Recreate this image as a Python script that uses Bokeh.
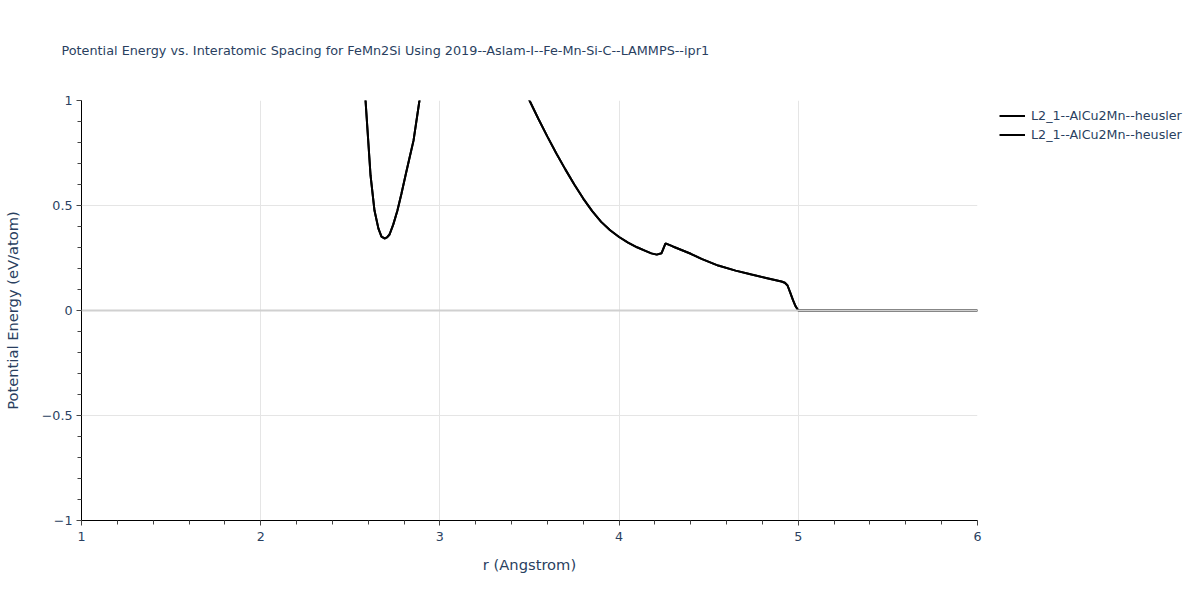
from bokeh.plotting import figure
from bokeh.models import (ColumnDataSource, SingleIntervalTicker, Range1d, Span,
                          Legend, LegendItem)
from bokeh.embed import file_html
from bokeh.resources import INLINE

# ---- data ----
r_vals = [2.55, 2.585, 2.613, 2.635, 2.657, 2.674, 2.691, 2.705, 2.719, 2.74, 2.763,
          2.785, 2.808, 2.83, 2.853, 2.886, 2.95, 3.05, 3.2, 3.35, 3.5, 3.55,
          3.6, 3.65, 3.7, 3.75, 3.8, 3.85, 3.9, 3.95, 4.0, 4.05, 4.1, 4.15,
          4.18, 4.21, 4.237, 4.259, 4.3, 4.4, 4.46, 4.553, 4.65, 4.739, 4.82,
          4.906, 4.925, 4.94, 4.955, 4.971, 4.985, 5.0, 5.5, 6.0]
e_vals = [1.6, 1.0, 0.643, 0.476, 0.39, 0.352, 0.343, 0.348, 0.362, 0.41, 0.476,
          0.555, 0.643, 0.725, 0.81, 1.0, 1.4, 1.9, 1.7, 1.3, 1.0, 0.912,
          0.828, 0.748, 0.672, 0.6, 0.533, 0.473, 0.422, 0.382, 0.35, 0.323, 0.301, 0.283,
          0.272, 0.266, 0.273, 0.320, 0.305, 0.27, 0.246, 0.214, 0.19, 0.171, 0.155,
          0.138, 0.132, 0.119, 0.085, 0.048, 0.02, 0.0, 0.0, 0.0]
series_names = ["L2_1--AlCu2Mn--heusler", "L2_1--AlCu2Mn--heusler"]
x_range = (1, 6)
y_range = (-1, 1)
y_tick_labels = {-1: "\u22121", -0.5: "\u22120.5", 0: "0", 0.5: "0.5", 1: "1"}

title_text = "Potential Energy vs. Interatomic Spacing for FeMn2Si Using 2019--Aslam-I--Fe-Mn-Si-C--LAMMPS--ipr1"
FONT = "DejaVu Sans"
TXT = "#2a3f5f"

p = figure(frame_width=896, frame_height=420, output_backend="svg", toolbar_location=None,
           x_range=Range1d(*x_range), y_range=Range1d(*y_range),
           min_border_left=80, min_border_right=224, min_border_top=100,
           min_border_bottom=80)
p.outline_line_color = None
p.background_fill_color = "white"

p.title.text = title_text
p.title.text_font = FONT
p.title.text_font_size = "12.8px"
p.title.text_font_style = "normal"
p.title.text_color = TXT
p.title.standoff = 82
p.title.offset = -20
p.title.vertical_align = "top"

src = ColumnDataSource(dict(r=r_vals, e=e_vals))
renderers = []
for name in series_names:
    rr = p.line("r", "e", source=src, line_color="black", line_width=2)
    renderers.append(rr)

zero = Span(location=0, dimension="width", line_color="#d0d0d0", line_width=2)
p.add_layout(zero)

xa = p.xaxis[0]
ya = p.yaxis[0]
xa.ticker = SingleIntervalTicker(interval=1, num_minor_ticks=5)
ya.ticker = SingleIntervalTicker(interval=0.5, num_minor_ticks=5)
ya.major_label_overrides = y_tick_labels
for ax in (xa, ya):
    ax.axis_line_color = "black"
    ax.axis_line_width = 1
    ax.major_tick_line_color = "#444444"
    ax.minor_tick_line_color = "#444444"
    ax.major_tick_in = 0
    ax.major_tick_out = 5
    ax.minor_tick_in = 0
    ax.minor_tick_out = 4
    ax.major_label_text_font = FONT
    ax.major_label_text_font_size = "12.7px"
    ax.major_label_text_color = TXT
    ax.axis_label_text_font = FONT
    ax.axis_label_text_font_size = "14.7px"
    ax.axis_label_text_font_style = "normal"
    ax.axis_label_text_color = TXT
xa.axis_label = "r (Angstrom)"
ya.axis_label = "Potential Energy (eV/atom)"
xa.axis_label_standoff = 12
ya.axis_label_standoff = 18
xa.major_label_standoff = 6
ya.major_label_standoff = 4

p.xgrid.grid_line_color = "#e5e5e5"
p.ygrid.grid_line_color = "#e5e5e5"
p.xgrid.grid_line_width = 1
p.ygrid.grid_line_width = 1

legend = Legend(items=[LegendItem(label=n, renderers=[r]) for n, r in zip(series_names, renderers)],
                location=(22, 376))
legend.label_text_font = FONT
legend.label_text_font_size = "12.7px"
legend.label_text_color = TXT
legend.border_line_color = None
legend.background_fill_alpha = 0
legend.glyph_width = 26
legend.label_standoff = 6
legend.spacing = 0
legend.label_height = 19
legend.glyph_height = 19
legend.padding = 0
legend.margin = 0
p.add_layout(legend, "right")

open("out.html", "w").write(file_html(p, INLINE))
